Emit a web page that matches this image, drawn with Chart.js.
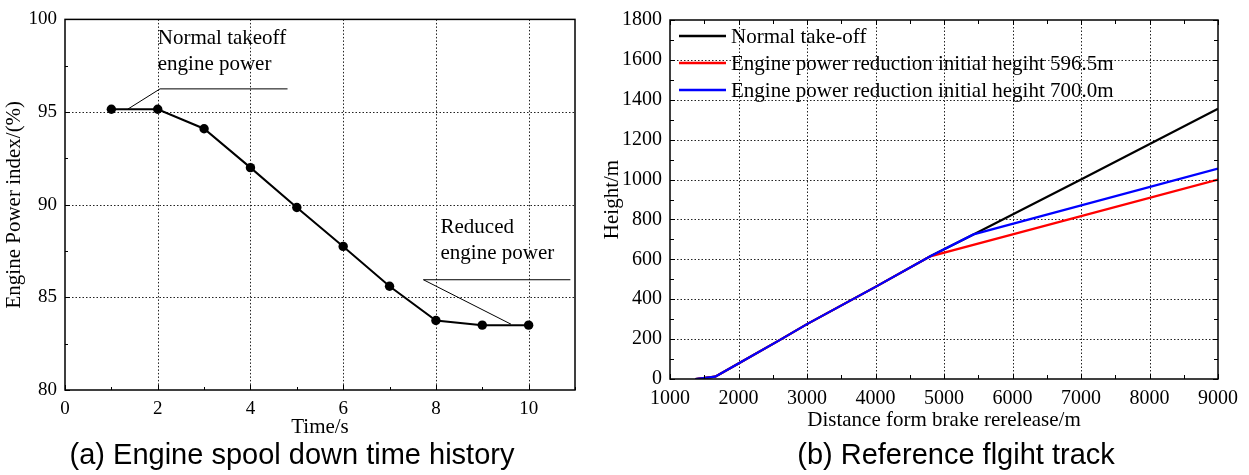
<!DOCTYPE html>
<html>
<head>
<meta charset="utf-8">
<script src="https://cdn.jsdelivr.net/npm/chart.js@4.4.0/dist/chart.umd.min.js"></script>
<style>
  html, body { margin: 0; padding: 0; background: #fff; }
  body { width: 1249px; height: 475px; position: relative; overflow: hidden; }
  #left { position: absolute; left: 0; top: 0; }
  #right { position: absolute; left: 600px; top: 0; }
  .cap { position: absolute; top: 440px; font-family: "Liberation Sans", Arial, sans-serif; font-size: 29px;
         line-height: 29px; white-space: nowrap; transform: translateX(-50%); color: #000; }
</style>
</head>
<body>
<canvas id="left" width="600" height="440"></canvas>
<canvas id="right" width="649" height="440"></canvas>
<div class="cap" style="left:292px">(a) Engine spool down time history</div>
<div class="cap" style="left:956px">(b) Reference flgiht track</div>
<script>
// (a) engine power index during spool down
var timeS = [1, 2, 3, 4, 5, 6, 7, 8, 9, 10];
var powerIndex = [95.15, 95.15, 94.1, 92.0, 89.85, 87.75, 85.6, 83.75, 83.5, 83.5];

// leader lines of the two notes (data units)
var takeoffNoteX = [1.35, 2.05, 4.8];
var takeoffNoteY = [95.15, 96.25, 96.25];
var reducedNoteX = [9.62, 7.73, 10.9];
var reducedNoteY = [83.55, 85.95, 85.95];
var takeoffNoteText = ["Normal takeoff", "engine power"];
var reducedNoteText = ["Reduced", "engine power"];

// (b) flight tracks, height vs distance
var trackLabels = ["Normal take-off",
  "Engine power reduction initial hegiht 596.5m",
  "Engine power reduction initial hegiht 700.0m"];
var normalDist = [1370, 1660, 2000, 2600, 3000, 4000, 4800, 5430, 7000, 9000];
var normalHeight = [0, 12, 78, 195, 275, 462, 615, 725, 1000, 1355];
var red596Dist = [1370, 1660, 2000, 2600, 3000, 4000, 4800, 9000];
var red596Height = [0, 12, 78, 195, 275, 462, 615, 1000];
var blue700Dist = [1370, 1660, 2000, 2600, 3000, 4000, 4800, 5430, 9000];
var blue700Height = [0, 12, 78, 195, 275, 462, 615, 725, 1055];

var SERIF = '"Liberation Serif", "Times New Roman", serif';

function pts(xs, ys) {
  return xs.map(function (x, i) { return { x: x, y: ys[i] }; });
}

// dotted grid under the data, box + inward ticks over it
var framePlugin = {
  id: 'frame',
  beforeDatasetsDraw: function (chart, args, o) {
    var a = chart.chartArea, ctx = chart.ctx, xs = chart.scales.x, ys = chart.scales.y;
    ctx.save();
    ctx.strokeStyle = '#222';
    ctx.lineWidth = 1;
    ctx.setLineDash([1.5, 2]);
    xs.ticks.forEach(function (t) {
      var p = Math.round(xs.getPixelForValue(t.value)) + 0.5;
      if (p <= a.left + 2 || p >= a.right - 2) return;
      ctx.beginPath(); ctx.moveTo(p, a.top); ctx.lineTo(p, a.bottom); ctx.stroke();
    });
    ys.ticks.forEach(function (t) {
      var p = Math.round(ys.getPixelForValue(t.value)) + 0.5;
      if (p <= a.top + 2 || p >= a.bottom - 2) return;
      ctx.beginPath(); ctx.moveTo(a.left, p); ctx.lineTo(a.right, p); ctx.stroke();
    });
    ctx.restore();
  },
  afterDatasetsDraw: function (chart, args, o) {
    var a = chart.chartArea, ctx = chart.ctx, xs = chart.scales.x, ys = chart.scales.y;
    ctx.save();
    ctx.strokeStyle = '#000';
    ctx.lineWidth = 1.5;
    ctx.strokeRect(a.left, a.top, a.right - a.left, a.bottom - a.top);
    ctx.lineWidth = 1;
    var v, p, len;
    for (v = xs.min; v <= xs.max + 1e-9; v += o.xMinor) {
      p = Math.round(xs.getPixelForValue(v)) + 0.5;
      len = Math.abs(v / o.xMajor - Math.round(v / o.xMajor)) < 1e-6 ? o.major : o.minor;
      ctx.beginPath(); ctx.moveTo(p, a.bottom); ctx.lineTo(p, a.bottom - len); ctx.stroke();
      if (o.mirror) { ctx.beginPath(); ctx.moveTo(p, a.top); ctx.lineTo(p, a.top + len); ctx.stroke(); }
    }
    for (v = ys.min; v <= ys.max + 1e-9; v += o.yMinor) {
      p = Math.round(ys.getPixelForValue(v)) + 0.5;
      len = Math.abs(v / o.yMajor - Math.round(v / o.yMajor)) < 1e-6 ? o.major : o.minor;
      ctx.beginPath(); ctx.moveTo(a.left, p); ctx.lineTo(a.left + len, p); ctx.stroke();
      if (o.mirror) { ctx.beginPath(); ctx.moveTo(a.right, p); ctx.lineTo(a.right - len, p); ctx.stroke(); }
    }
    ctx.restore();
  }
};

// text of the notes, placed in data units
var notesPlugin = {
  id: 'notes',
  afterDatasetsDraw: function (chart, args, o) {
    if (!o.items) return;
    var ctx = chart.ctx, xs = chart.scales.x, ys = chart.scales.y;
    ctx.save();
    ctx.fillStyle = '#000';
    ctx.font = '21px ' + SERIF;
    ctx.textAlign = 'left';
    ctx.textBaseline = 'middle';
    o.items.forEach(function (n) {
      n.lines.forEach(function (txt, i) {
        ctx.fillText(txt, xs.getPixelForValue(n.x), ys.getPixelForValue(n.y[i]));
      });
    });
    ctx.restore();
  }
};

// legend drawn inside the plot, top left
var innerLegend = {
  id: 'innerLegend',
  afterDraw: function (chart, args, o) {
    if (!o.show) return;
    var a = chart.chartArea, ctx = chart.ctx;
    ctx.save();
    ctx.font = '21px ' + SERIF;
    ctx.textBaseline = 'middle';
    ctx.fillStyle = '#000';
    chart.data.datasets.forEach(function (ds, i) {
      var y = a.top + 16 + i * 27;
      ctx.strokeStyle = ds.borderColor;
      ctx.lineWidth = 2.5;
      ctx.beginPath(); ctx.moveTo(a.left + 9, y); ctx.lineTo(a.left + 56, y); ctx.stroke();
      ctx.fillText(ds.label, a.left + 61, y + 1);
    });
    ctx.restore();
  }
};

Chart.register(framePlugin, notesPlugin, innerLegend);

function plain(v) { return String(v); }

function axis(min, max, step, size, title, tpad, extra) {
  var s = {
    type: 'linear', min: min, max: max,
    ticks: { stepSize: step, includeBounds: false, autoSkip: false, maxRotation: 0, padding: 8,
             color: '#000', font: { family: SERIF, size: size }, callback: plain },
    grid: { display: false, drawTicks: false },
    border: { display: false },
    title: { display: true, text: title, color: '#000', font: { family: SERIF, size: 21 }, padding: tpad }
  };
  return Object.assign(s, extra);
}

new Chart(document.getElementById('left'), {
  type: 'line',
  data: {
    datasets: [
      { data: pts(timeS, powerIndex), borderColor: '#000', borderWidth: 2, pointRadius: 4.7,
        pointBackgroundColor: '#000', pointBorderWidth: 0 },
      { data: pts(takeoffNoteX, takeoffNoteY), borderColor: '#000', borderWidth: 1, pointRadius: 0 },
      { data: pts(reducedNoteX, reducedNoteY), borderColor: '#000', borderWidth: 1, pointRadius: 0 }
    ]
  },
  options: {
    responsive: false, animation: false, devicePixelRatio: 1,
    layout: { padding: { left: 0, top: 18, right: 25, bottom: 0 } },
    scales: {
      x: axis(0, 11, 2, 19, 'Time/s', { top: 0, bottom: 0 }, { afterFit: function (s) { s.height = 50; } }),
      y: axis(80, 100, 5, 19, 'Engine Power index/(%)', { top: 2, bottom: 0 }, { afterFit: function (s) { s.width = 65; } })
    },
    plugins: {
      legend: { display: false }, tooltip: { enabled: false },
      frame: { xMinor: 1, xMajor: 2, yMinor: 2.5, yMajor: 5, major: 5, minor: 3, mirror: false },
      notes: { items: [
        { x: 2.0, y: [98.98, 97.58], lines: takeoffNoteText },
        { x: 8.1, y: [88.76, 87.37], lines: reducedNoteText }
      ] },
      innerLegend: { show: false }
    }
  }
});

new Chart(document.getElementById('right'), {
  type: 'line',
  data: {
    datasets: [
      { label: trackLabels[0], data: pts(normalDist, normalHeight), borderColor: '#000', borderWidth: 2.2, pointRadius: 0, order: 2 },
      { label: trackLabels[1], data: pts(red596Dist, red596Height), borderColor: '#ff0000', borderWidth: 2.2, pointRadius: 0, order: 1 },
      { label: trackLabels[2], data: pts(blue700Dist, blue700Height), borderColor: '#0000ff', borderWidth: 2.2, pointRadius: 0, order: 0 }
    ]
  },
  options: {
    responsive: false, animation: false, devicePixelRatio: 1,
    layout: { padding: { left: 0, top: 13, right: 31, bottom: 0 } },
    scales: {
      x: axis(1000, 9000, 1000, 20, 'Distance form brake rerelease/m', { top: 0, bottom: 7 }, { afterFit: function (s) { s.height = 61; } }),
      y: axis(0, 1800, 200, 20, 'Height/m', { top: 0, bottom: 0 }, { afterFit: function (s) { s.width = 70; } })
    },
    plugins: {
      legend: { display: false }, tooltip: { enabled: false },
      frame: { xMinor: 500, xMajor: 1000, yMinor: 100, yMajor: 200, major: 5, minor: 4, mirror: true },
      notes: { items: null },
      innerLegend: { show: true }
    }
  }
});
</script>
</body>
</html>
